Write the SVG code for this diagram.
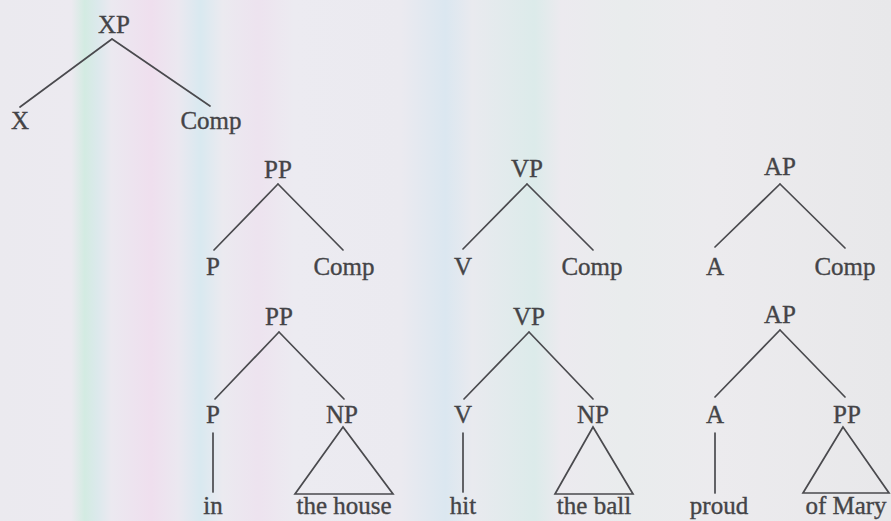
<svg xmlns="http://www.w3.org/2000/svg" width="891" height="521" viewBox="0 0 891 521">
<defs>
<linearGradient id="bg" x1="0" y1="0" x2="891" y2="0" gradientUnits="userSpaceOnUse">
<stop offset="0" stop-color="#ebeaef"/>
<stop offset="0.08" stop-color="#eceaf0"/>
<stop offset="0.095" stop-color="#d3ebe2"/>
<stop offset="0.11" stop-color="#dce9ec"/>
<stop offset="0.125" stop-color="#ebe9f0"/>
<stop offset="0.17" stop-color="#efdfee"/>
<stop offset="0.2" stop-color="#ebe8f0"/>
<stop offset="0.225" stop-color="#d9e9f0"/>
<stop offset="0.25" stop-color="#ebeaf0"/>
<stop offset="0.29" stop-color="#ede3ef"/>
<stop offset="0.33" stop-color="#ecebf1"/>
<stop offset="0.45" stop-color="#ebeaf0"/>
<stop offset="0.5" stop-color="#dbe7f0"/>
<stop offset="0.53" stop-color="#e9eaef"/>
<stop offset="0.6" stop-color="#dcebea"/>
<stop offset="0.63" stop-color="#eceaef"/>
<stop offset="0.7" stop-color="#e9eced"/>
<stop offset="0.8" stop-color="#ecebee"/>
<stop offset="1" stop-color="#e8e8ea"/>
</linearGradient>
</defs>
<style>
.t { font-family: 'Liberation Serif', 'Times New Roman', serif; font-size: 25px; fill: #444447; stroke: #444447; stroke-width: 0.35; text-anchor: middle; }
.e { stroke: #4a4a4e; stroke-width: 1.7; fill: none; stroke-linecap: round; }
</style>
<rect width="891" height="521" fill="url(#bg)"/>

<g id="connectors">
  <path class="e" d="M112 39 L20 107 M112 39 L210 106"/>
  <path class="e" d="M278 184 L214 250 M278 184 L343 250"/>
  <path class="e" d="M527 184 L463 249 M527 184 L593 250"/>
  <path class="e" d="M780 184 L715 247 M780 184 L845 248"/>
  <path class="e" d="M279 332 L215 399 M279 332 L344 399"/>
  <path class="e" d="M213 433 L213 492"/>
  <path class="e" d="M529 332 L464 399 M529 332 L593 399"/>
  <path class="e" d="M463 433 L463 492"/>
  <path class="e" d="M780 330 L715 397 M780 330 L845 397"/>
  <path class="e" d="M715 433 L715 493"/>
</g>

<g id="XP"><text class="t" x="114" y="33">XP</text></g>
<g id="X"><text class="t" x="20" y="129">X</text></g>
<g id="Comp-XP"><text class="t" x="211" y="129">Comp</text></g>

<g id="PP1"><text class="t" x="278" y="178">PP</text></g>
<g id="P1"><text class="t" x="213" y="275">P</text></g>
<g id="Comp-PP"><text class="t" x="344" y="275">Comp</text></g>

<g id="VP1"><text class="t" x="527" y="177">VP</text></g>
<g id="V1"><text class="t" x="463" y="275">V</text></g>
<g id="Comp-VP"><text class="t" x="592" y="275">Comp</text></g>

<g id="AP1"><text class="t" x="780" y="175">AP</text></g>
<g id="A1"><text class="t" x="715" y="275">A</text></g>
<g id="Comp-AP"><text class="t" x="845" y="275">Comp</text></g>

<g id="PP2"><text class="t" x="279" y="325">PP</text></g>
<g id="P2"><text class="t" x="213" y="423">P</text></g>
<g id="NP1"><text class="t" x="342" y="423">NP</text>
  <path class="e" d="M343 427 L295 494 L393 494 Z"/></g>
<g id="in"><text class="t" x="213" y="514">in</text></g>
<g id="the-house"><text class="t" x="344" y="514">the house</text></g>

<g id="VP2"><text class="t" x="529" y="325">VP</text></g>
<g id="V2"><text class="t" x="463" y="423">V</text></g>
<g id="NP2"><text class="t" x="593" y="423">NP</text>
  <path class="e" d="M593 427 L555 494 L633 494 Z"/></g>
<g id="hit"><text class="t" x="463" y="514">hit</text></g>
<g id="the-ball"><text class="t" x="594" y="514">the ball</text></g>

<g id="AP2"><text class="t" x="780" y="323">AP</text></g>
<g id="A2"><text class="t" x="715" y="423">A</text></g>
<g id="PP3"><text class="t" x="847" y="423">PP</text>
  <path class="e" d="M843 427 L803 493 L889 493 Z"/></g>
<g id="proud"><text class="t" x="719" y="514">proud</text></g>
<g id="of-Mary"><text class="t" x="846" y="514">of Mary</text></g>
</svg>
